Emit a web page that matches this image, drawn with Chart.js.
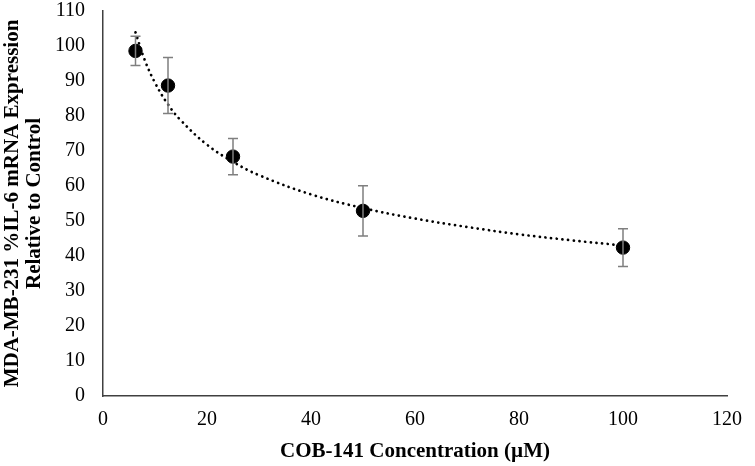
<!DOCTYPE html>
<html>
<head>
<meta charset="utf-8">
<script src="https://cdn.jsdelivr.net/npm/chart.js@4.4.0/dist/chart.umd.min.js"></script>
<style>
  html, body { margin: 0; padding: 0; background: #fff; }
  #wrap { width: 755px; height: 466px; }
</style>
</head>
<body>
<div id="wrap"><canvas id="c" width="755" height="466"></canvas></div>
<script>
// measured points (concentration µM vs % expression)
const concentrations = [6.25, 12.5, 25, 50, 100];
const expression     = [98.6, 88.7, 68.4, 52.9, 42.4];
const errors         = [4.2, 8.0, 5.2, 7.2, 5.4];

// dotted trendline
const trendX = [6.25, 8, 10, 12.5, 15, 20, 25, 30, 40, 50, 60, 70, 80, 90, 100];
const trendY = [103.9, 96.1, 89.5, 83.3, 78.7, 71.8, 66.9, 63.1, 57.6, 53.7, 50.7, 48.3, 46.2, 44.5, 43.0];

const xTicks = [0, 20, 40, 60, 80, 100, 120];
const yTicks = [0, 10, 20, 30, 40, 50, 60, 70, 80, 90, 100, 110];

const FONT = "'Liberation Serif', 'Times New Roman', serif";

const errorBars = {
  id: 'errorBars',
  afterDatasetsDraw(chart) {
    const ctx = chart.ctx;
    const xs = chart.scales.x, ys = chart.scales.y;
    ctx.save();
    ctx.strokeStyle = '#7f7f7f';
    ctx.lineWidth = 1.5;
    concentrations.forEach((c, i) => {
      const px = xs.getPixelForValue(c);
      const top = ys.getPixelForValue(expression[i] + errors[i]);
      const bot = ys.getPixelForValue(expression[i] - errors[i]);
      ctx.beginPath();
      ctx.moveTo(px, top); ctx.lineTo(px, bot);
      ctx.moveTo(px - 5, top); ctx.lineTo(px + 5, top);
      ctx.moveTo(px - 5, bot); ctx.lineTo(px + 5, bot);
      ctx.stroke();
    });
    ctx.restore();
  }
};

new Chart(document.getElementById('c'), {
  type: 'scatter',
  data: {
    datasets: [
      {
        label: 'points',
        data: concentrations.map((x, i) => ({ x, y: expression[i] })),
        backgroundColor: '#000',
        borderColor: '#000',
        pointRadius: 6.7,
        order: 2
      },
      {
        label: 'trend',
        type: 'line',
        data: trendX.map((x, i) => ({ x, y: trendY[i] })),
        borderColor: '#000',
        borderWidth: 2.7,
        borderDash: [0.1, 5.6],
        borderCapStyle: 'round',
        pointRadius: 0,
        tension: 0.4,
        fill: false,
        order: 1
      }
    ]
  },
  options: {
    responsive: false,
    animation: false,
    layout: { padding: { top: 11, right: 28 } },
    plugins: { legend: { display: false }, tooltip: { enabled: false } },
    scales: {
      x: {
        type: 'linear',
        min: 0, max: 120,
        afterBuildTicks: s => { s.ticks = xTicks.map(v => ({ value: v })); },
        afterFit: s => { s.height = 70; },
        grid: { display: false, drawTicks: false },
        border: { color: '#404040', width: 1.5 },
        ticks: { color: '#000', padding: 12, maxRotation: 0, font: { family: FONT, size: 20 } },
        title: {
          display: true,
          text: 'COB-141 Concentration (µM)',
          color: '#000',
          font: { family: FONT, size: 21, weight: 'bold' },
          padding: { top: 4, bottom: 2 }
        }
      },
      y: {
        min: 0, max: 110,
        afterBuildTicks: s => { s.ticks = yTicks.map(v => ({ value: v })); },
        afterFit: s => { s.width = 103; s.paddingTop = 0; s.paddingBottom = 0; },
        grid: { display: false, drawTicks: false },
        border: { color: '#404040', width: 1.5 },
        ticks: { color: '#000', padding: 18, font: { family: FONT, size: 20 } },
        title: {
          display: true,
          text: ['MDA-MB-231 %IL-6 mRNA Expression', 'Relative to Control'],
          color: '#000',
          font: { family: FONT, size: 21, weight: 'bold', lineHeight: 1.05 },
          padding: { top: 2, bottom: 2 }
        }
      }
    }
  },
  plugins: [errorBars]
});
</script>
</body>
</html>
